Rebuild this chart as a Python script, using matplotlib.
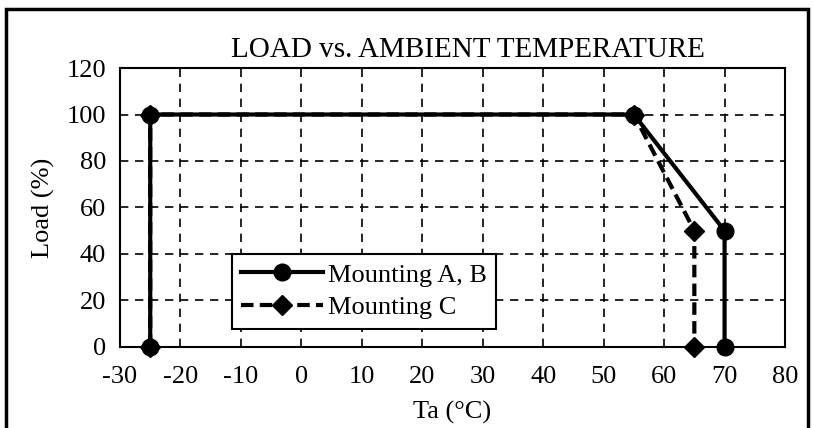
import matplotlib.pyplot as plt
from matplotlib.patches import Rectangle

plt.rcParams['font.family'] = ['Liberation Serif', 'DejaVu Serif']
plt.rcParams['axes.unicode_minus'] = False

ta_ab = [-25, -25, 55, 70, 70]
load_ab = [0, 100, 100, 50, 0]
ta_c = [-25, -25, 55, 65, 65]
load_c = [0, 100, 100, 50, 0]

xticks = list(range(-30, 81, 10))
yticks = list(range(0, 121, 20))

fig = plt.figure(figsize=(8.13, 4.28), dpi=100)
ax = fig.add_axes([0.1476, 0.1893, 0.8180, 0.6518])

ax.plot(ta_c, load_c, '--D', color='black', lw=3, ms=10, dashes=(3, 1.5),
        label='Mounting C', zorder=3, clip_on=False)
ax.plot(ta_ab, load_ab, '-o', color='black', lw=3, ms=12,
        label='Mounting A, B', zorder=4, clip_on=False)

ax.set_xlim(-30, 80)
ax.set_ylim(0, 120)
ax.set_xticks(xticks)
ax.set_yticks(yticks)
ax.tick_params(length=0, labelsize=19)
ax.tick_params(axis='x', pad=14)
ax.tick_params(axis='y', pad=10)
ax.grid(True, color='black', ls=(0, (5, 4)), lw=1.2)
for s in ax.spines.values():
    s.set_linewidth(1.5)

ax.set_xlabel('Ta (°C)', fontsize=19, labelpad=9)
ax.set_ylabel('Load (%)', fontsize=19, labelpad=8)
ax.set_title('LOAD vs. AMBIENT TEMPERATURE', fontsize=21, pad=8, x=0.523)

h, l = ax.get_legend_handles_labels()
leg = ax.legend(h[::-1], l[::-1], loc='lower left', bbox_to_anchor=(0.168, 0.066),
                borderaxespad=0, fontsize=19, handlelength=3.1,
                handletextpad=0.2, borderpad=0.35, labelspacing=0.35,
                fancybox=False, framealpha=1, edgecolor='black')
leg.get_frame().set_linewidth(1.5)

# outer border of the chart area
fig.patches.append(Rectangle((6 / 813, -0.05), 802 / 813, 1.05 - 9 / 428,
                             transform=fig.transFigure, fill=False,
                             ec='black', lw=2.5))

fig.savefig('out.png', dpi=100)
